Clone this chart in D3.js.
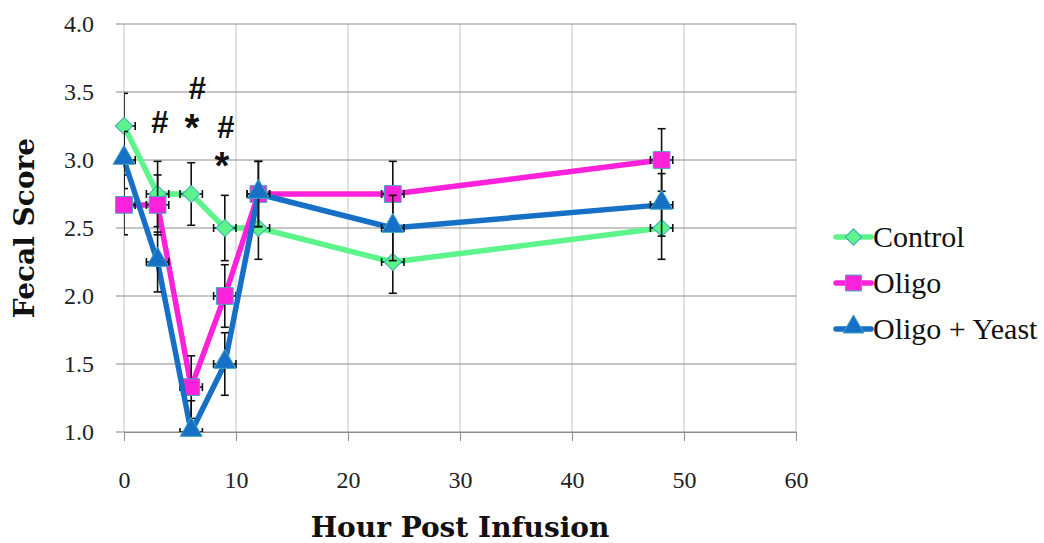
<!DOCTYPE html>
<html>
<head>
<meta charset="utf-8">
<script src="https://cdn.jsdelivr.net/npm/d3@7"></script>
<style>
body { margin: 0; background: #fff; }
</style>
</head>
<body>
<svg width="1044" height="543"></svg>
<script>
// data
var hours = [0, 3, 6, 9, 12, 24, 48];
var control = [3.25, 2.75, 2.75, 2.5, 2.5, 2.25, 2.5];
var oligo = [2.67, 2.67, 1.33, 2.0, 2.75, 2.75, 3.0];
var yeast = [3.0, 2.25, 1.0, 1.5, 2.75, 2.5, 2.67];
var controlErr = [0.24, 0.24, 0.23, 0.24, 0.23, 0.23, 0.23];
var oligoErr = [0.22, 0.22, 0.23, 0.23, 0.24, 0.24, 0.23];
var yeastErr = [0.21, 0.22, 0.23, 0.23, 0.24, 0.24, 0.23];
var hourErr = 1;
var seriesNames = ['Control', 'Oligo', 'Oligo + Yeast'];
var xTicks = [0, 10, 20, 30, 40, 50, 60];
var yTicks = [1.0, 1.5, 2.0, 2.5, 3.0, 3.5, 4.0];
var marks = [
    {label: '#', hour: 3.2, value: 3.2},
    {label: '*', hour: 6.07, value: 3.14},
    {label: '#', hour: 6.55, value: 3.45},
    {label: '#', hour: 9.1, value: 3.16},
    {label: '*', hour: 8.75, value: 2.86}
];

var serif = '"Liberation Serif", serif';
var colors = ['#5cf48b', '#fc22dc', '#1670c6'];
var shapes = [d3.symbolSquare, d3.symbolSquare, d3.symbolTriangle];
var sizes = [150, 280, 210];
var rotations = [45, 0, 0];

var svg = d3.select('svg');

var ScaleX = d3.scaleLinear().domain([0, 60]).range([124, 796]);
var ScaleY = d3.scaleLinear().domain([1, 4]).range([432, 24]);

var series = [
    {name: seriesNames[0], values: control, err: controlErr},
    {name: seriesNames[1], values: oligo, err: oligoErr},
    {name: seriesNames[2], values: yeast, err: yeastErr}
];

svg.append('clipPath')
    .attr('id', 'plotClip')
    .append('rect')
    .attr('x', ScaleX(0))
    .attr('y', ScaleY(4) - 2)
    .attr('width', ScaleX(60) - ScaleX(0))
    .attr('height', ScaleY(1) - ScaleY(4) + 2);

//vertical grid lines
svg.append('g')
    .selectAll('line')
    .data(xTicks)
    .enter()
    .append('line')
    .attr('x1', function(d){ return ScaleX(d); })
    .attr('x2', function(d){ return ScaleX(d); })
    .attr('y1', ScaleY(4))
    .attr('y2', ScaleY(1))
    .attr('stroke', '#c4c4c4')
    .attr('stroke-width', 1);

//horizontal grid lines
svg.append('g')
    .selectAll('line')
    .data(yTicks)
    .enter()
    .append('line')
    .attr('x1', ScaleX(0) - 8)
    .attr('x2', ScaleX(60))
    .attr('y1', function(d){ return ScaleY(d); })
    .attr('y2', function(d){ return ScaleY(d); })
    .attr('stroke', '#8c8c8c')
    .attr('stroke-width', 1);

//x axis
var xAxis = svg.append('g')
    .attr('transform', 'translate(0,' + ScaleY(1) + ')')
    .call(d3.axisBottom(ScaleX).tickValues(xTicks).tickSize(9).tickPadding(30));
xAxis.attr('font-family', serif).attr('font-size', 24);
xAxis.select('.domain').attr('stroke', '#8c8c8c');
xAxis.selectAll('.tick line').attr('stroke', '#8c8c8c');
xAxis.selectAll('text').attr('fill', '#222');

//y axis labels
var yAxis = svg.append('g')
    .attr('transform', 'translate(' + ScaleX(0) + ',0)')
    .call(d3.axisLeft(ScaleY).tickValues(yTicks).tickFormat(d3.format('.1f')).tickSize(0).tickPadding(30));
yAxis.attr('font-family', serif).attr('font-size', 24);
yAxis.select('.domain').remove();
yAxis.selectAll('text').attr('fill', '#222');

//axis titles
svg.append('text')
    .attr('x', (ScaleX(0) + ScaleX(60)) / 2)
    .attr('y', 537)
    .attr('text-anchor', 'middle')
    .attr('font-family', '"DejaVu Serif", serif')
    .attr('font-size', 28)
    .attr('font-weight', 'bold')
    .attr('fill', '#111')
    .text('Hour Post Infusion');

svg.append('text')
    .attr('transform', 'translate(34,' + (ScaleY(1) + ScaleY(4)) / 2 + ') rotate(-90)')
    .attr('text-anchor', 'middle')
    .attr('font-family', '"DejaVu Serif", serif')
    .attr('font-size', 28)
    .attr('font-weight', 'bold')
    .attr('fill', '#111')
    .text('Fecal Score');

var line = d3.line()
    .x(function(d, i){ return ScaleX(hours[i]); })
    .y(function(d){ return ScaleY(d); });

function marker(sel, k, scale) {
    sel.attr('d', d3.symbol().type(shapes[k]).size(sizes[k] * scale))
        .attr('fill', colors[k])
        .attr('stroke', '#3fa6c0')
        .attr('stroke-width', 1);
}

series.forEach(function(s, k){
    var g = svg.append('g');

    g.append('path')
        .attr('d', line(s.values))
        .attr('fill', 'none')
        .attr('stroke', colors[k])
        .attr('stroke-width', 5.5)
        .attr('stroke-linejoin', 'round');

    //error bars, clipped to the plot area
    var eb = g.append('g')
        .attr('clip-path', 'url(#plotClip)')
        .attr('stroke', '#111')
        .attr('stroke-width', 1.6)
        .selectAll('g')
        .data(s.values.map(function(v, i){ return {h: hours[i], v: v, e: s.err[i]}; }))
        .enter()
        .append('g');
    eb.append('line')
        .attr('x1', function(d){ return ScaleX(d.h); })
        .attr('x2', function(d){ return ScaleX(d.h); })
        .attr('y1', function(d){ return ScaleY(d.v + d.e); })
        .attr('y2', function(d){ return ScaleY(d.v - d.e); });
    [1, -1].forEach(function(sign){
        eb.append('line')
            .attr('x1', function(d){ return ScaleX(d.h) - 4; })
            .attr('x2', function(d){ return ScaleX(d.h) + 4; })
            .attr('y1', function(d){ return ScaleY(d.v + sign * d.e); })
            .attr('y2', function(d){ return ScaleY(d.v + sign * d.e); });
        eb.append('line')
            .attr('x1', function(d){ return ScaleX(d.h + sign * hourErr); })
            .attr('x2', function(d){ return ScaleX(d.h + sign * hourErr); })
            .attr('y1', function(d){ return ScaleY(d.v) - 4; })
            .attr('y2', function(d){ return ScaleY(d.v) + 4; });
    });
    eb.append('line')
        .attr('x1', function(d){ return ScaleX(d.h - hourErr); })
        .attr('x2', function(d){ return ScaleX(d.h + hourErr); })
        .attr('y1', function(d){ return ScaleY(d.v); })
        .attr('y2', function(d){ return ScaleY(d.v); });

    //markers
    g.selectAll('.pt')
        .data(s.values)
        .enter()
        .append('path')
        .call(marker, k, 1)
        .attr('transform', function(d, i){
            var dy = k == 2 ? -2 : 0;
            return 'translate(' + ScaleX(hours[i]) + ',' + (ScaleY(d) + dy) + ') rotate(' + rotations[k] + ')';
        });
});

//significance marks
svg.append('g')
    .selectAll('text')
    .data(marks)
    .enter()
    .append('text')
    .attr('x', function(d){ return ScaleX(d.hour); })
    .attr('y', function(d){ return ScaleY(d.value); })
    .attr('text-anchor', 'middle')
    .attr('font-family', '"Liberation Sans", sans-serif')
    .attr('font-size', function(d){ return d.label == '*' ? 38 : 31; })
    .attr('font-weight', 'bold')
    .attr('fill', '#111')
    .text(function(d){ return d.label; });

//legend
var legend = svg.append('g')
    .selectAll('g')
    .data(series)
    .enter()
    .append('g')
    .attr('transform', function(d, i){ return 'translate(836,' + (237 + i * 46) + ')'; });
legend.append('line')
    .attr('x1', 0)
    .attr('x2', 35)
    .attr('stroke', function(d, i){ return colors[i]; })
    .attr('stroke-width', 5.5)
    .attr('stroke-linecap', 'round');
legend.each(function(d, i){
    d3.select(this).append('path')
        .call(marker, i, 0.9)
        .attr('transform', 'translate(17.5,' + (i == 2 ? -2 : 0) + ') rotate(' + rotations[i] + ')');
});
legend.append('text')
    .attr('x', 37)
    .attr('y', 10)
    .attr('font-family', serif)
    .attr('font-size', 30)
    .attr('fill', '#111')
    .text(function(d){ return d.name; });
</script>
</body>
</html>
